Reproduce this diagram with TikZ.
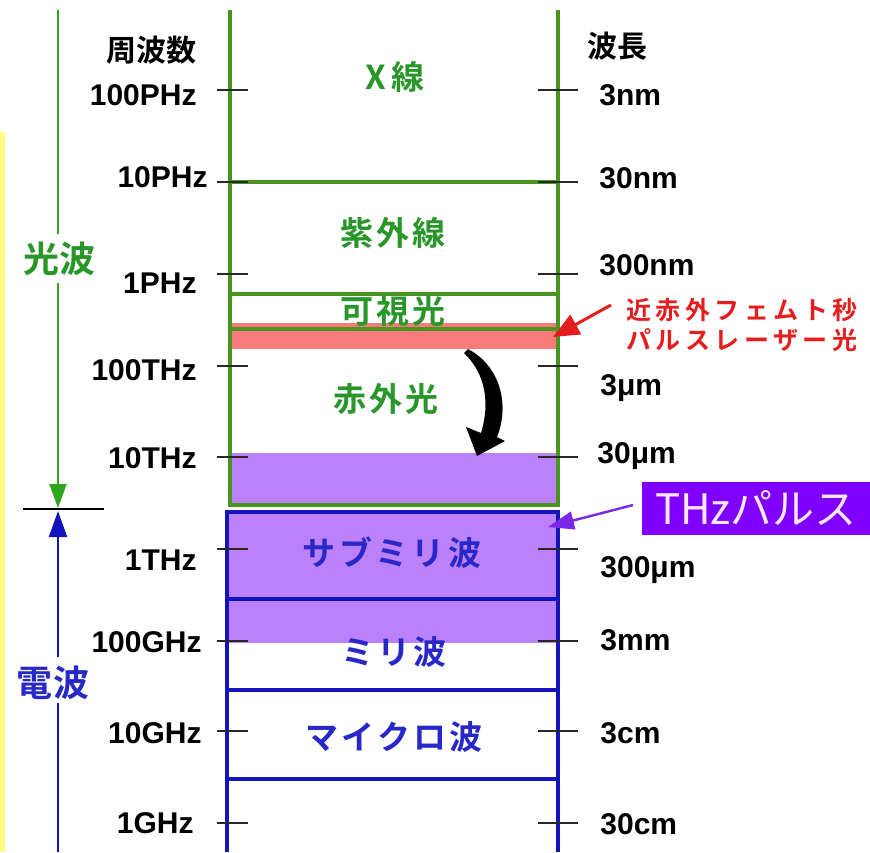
\documentclass[tikz,border=0pt]{standalone}
\usepackage{fontspec}
\setmainfont{Liberation Sans}
\newfontfamily\jp{Noto Sans CJK JP}[BoldFont={Noto Sans CJK JP Bold}]
\newfontfamily\jpsp{Noto Sans CJK JP}[BoldFont={Noto Sans CJK JP Bold},LetterSpace=10]
\newfontfamily\jpred{Noto Sans CJK JP}[BoldFont={Noto Sans CJK JP Bold},LetterSpace=18]
\usetikzlibrary{arrows.meta}
\definecolor{gline}{RGB}{72,150,32}
\definecolor{gtext}{RGB}{40,150,40}
\definecolor{garrow}{RGB}{50,165,30}
\definecolor{bline}{RGB}{20,20,190}
\definecolor{btext}{RGB}{40,40,200}
\definecolor{pband}{RGB}{248,122,122}
\definecolor{purp}{RGB}{188,128,248}
\definecolor{thz}{RGB}{128,0,255}
\definecolor{thzt}{RGB}{255,232,255}
\definecolor{thzarrow}{RGB}{120,40,230}
\definecolor{redt}{RGB}{228,30,30}
\definecolor{yel}{RGB}{255,255,128}
\definecolor{tickc}{RGB}{40,40,40}
\begin{document}
\begin{tikzpicture}[x=0.5pt,y=-0.5pt,
  num/.style={font=\fontsize{15}{15}\selectfont\bfseries, inner sep=0},
  head/.style={font=\jp\bfseries\fontsize{15}{15}\selectfont, inner sep=0},
  glabel/.style={font=\jpsp\bfseries\fontsize{16.5}{16.5}\selectfont, text=gtext, inner sep=0},
  blabel/.style={font=\jpsp\bfseries\fontsize{16.5}{16.5}\selectfont, text=btext, inner sep=0},
  redlabel/.style={font=\jpred\bfseries\fontsize{12.5}{12.5}\selectfont, text=redt, anchor=west, inner sep=0},
  side/.style={font=\jp\bfseries\fontsize{18}{18}\selectfont, inner sep=0},
  gbox/.style={draw=gline, line width=2pt},
  bbox/.style={draw=bline, line width=2pt},
  tickline/.style={draw=tickc, line width=1pt},
]
\useasboundingbox (0,0) rectangle (870,852);
% background fills
\fill[yel] (0,132) rectangle (5,852);
\fill[pband] (230,323) rectangle (558,349);
\fill[purp] (230,453) rectangle (558,505);
\fill[purp] (227,512) rectangle (558,643);

% green box
\draw[gbox] (230,10) -- (230,507);
\draw[gbox] (558,10) -- (558,507);
\draw[gbox] (230,182) -- (558,182);
\draw[gbox] (230,294) -- (558,294);
\draw[gbox] (230,329) -- (558,329);
\draw[gbox] (230,505) -- (558,505);
% blue box
\draw[bbox] (227,510) -- (227,852);
\draw[bbox] (558,510) -- (558,852);
\draw[bbox] (227,512) -- (558,512);
\draw[bbox] (227,599) -- (558,599);
\draw[bbox] (227,690) -- (558,690);
\draw[bbox] (227,779) -- (558,779);

% ticks
\foreach \yy in {90,182,274,366,457,549,641,731,823}{
  \draw[tickline] (217,\yy) -- (248,\yy);
  \draw[tickline] (538,\yy) -- (578,\yy);
}

% headings
\node[head, anchor=east] (hfreq) at (197,50) {周波数};
\node[head, anchor=west] (hwave) at (587,46) {波長};

% frequency labels
\node[num, anchor=base east] (f1) at (197,105) {100PHz};
\node[num, anchor=base east] (f2) at (208,187) {10PHz};
\node[num, anchor=base east] (f3) at (197,293) {1PHz};
\node[num, anchor=base east] (f4) at (197,380) {100THz};
\node[num, anchor=base east] (f5) at (197,468) {10THz};
\node[num, anchor=base east] (f6) at (197,570) {1THz};
\node[num, anchor=base east] (f7) at (202,652) {100GHz};
\node[num, anchor=base east] (f8) at (202,743) {10GHz};
\node[num, anchor=base east] (f9) at (194,833) {1GHz};
% wavelength labels
\node[num, anchor=base west] (w1) at (599,105) {3nm};
\node[num, anchor=base west] (w2) at (599,188) {30nm};
\node[num, anchor=base west] (w3) at (599,275) {300nm};
\node[num, anchor=base west] (w4) at (600,395) {3μm};
\node[num, anchor=base west] (w5) at (597,463) {30μm};
\node[num, anchor=base west] (w6) at (600,577) {300μm};
\node[num, anchor=base west] (w7) at (600,650) {3mm};
\node[num, anchor=base west] (w8) at (600,743) {3cm};
\node[num, anchor=base west] (w9) at (600,834) {30cm};

% region labels
\node[glabel] (xray) at (395,77) {X\hspace{3pt}線};
\node[glabel] (uv) at (393,233) {紫外線};
\node[glabel] (vis) at (393,311) {可視光};
\node[glabel] (ir) at (386,399) {赤外光};
\node[blabel] (submm) at (392,553) {サブミリ波};
\node[blabel] (mm) at (394,652) {ミリ波};
\node[blabel] (micro) at (394,737) {マイクロ波};

% side labels and arrows
\node[side, text=gtext] (light) at (59,259) {光波};
\node[side, text=btext] (radio) at (53,683) {電波};
\coordinate (gtop) at (58,10);
\coordinate (gbrk1) at (58,234);
\coordinate (gbrk2) at (58,283);
\coordinate (split) at (58,508);
\coordinate (bbrk1) at (58,657);
\coordinate (bbrk2) at (58,703);
\coordinate (btip) at (58,511);
\coordinate (bbot) at (58,852);
\draw[garrow, line width=1pt] (gtop) -- (gbrk1);
\draw[garrow, line width=1pt, -{Triangle[length=12pt,width=8.5pt]}] (gbrk2) -- (split);
\draw[bline, line width=1pt, -{Triangle[length=13pt,width=9pt]}] (bbrk1) -- (btip);
\draw[bline, line width=1pt] (bbrk2) -- (bbot);
\coordinate (bl) at (23,509);
\coordinate (br) at (104,509);
\draw[black, line width=1pt] (bl) -- (br);

% femtosecond laser annotation
\node[redlabel] (fs1) at (626,310) {近赤外フェムト秒};
\node[redlabel] (fs2) at (626,340) {パルスレーザー光};
\coordinate (fsstart) at (611,305);
\coordinate (fstip) at (553,337);
\draw[redt, line width=1.5pt, -{Triangle[length=13pt,width=11pt]}] (fsstart) -- (fstip);

% THz pulse label
\node[fill=thz, text=thzt, minimum width=114pt, minimum height=26.5pt, inner sep=0,
      font=\jp\fontsize{21}{21}\selectfont] (thzl) at (756,508.5) {THzパルス};
\coordinate (thzstart) at (633,505);
\coordinate (thztip) at (548,527);
\draw[thzarrow, line width=1.2pt, -{Triangle[length=13pt,width=9pt]}] (thzstart) -- (thztip);

% black curved conversion arrow
\fill[black] (468,349) .. controls (500,366) and (510,404) .. (497,437)
  -- (505,441) -- (477,456) -- (466,427) -- (481,433)
  .. controls (490,404) and (486,374) .. (464,353) -- cycle;
\end{tikzpicture}
\end{document}
